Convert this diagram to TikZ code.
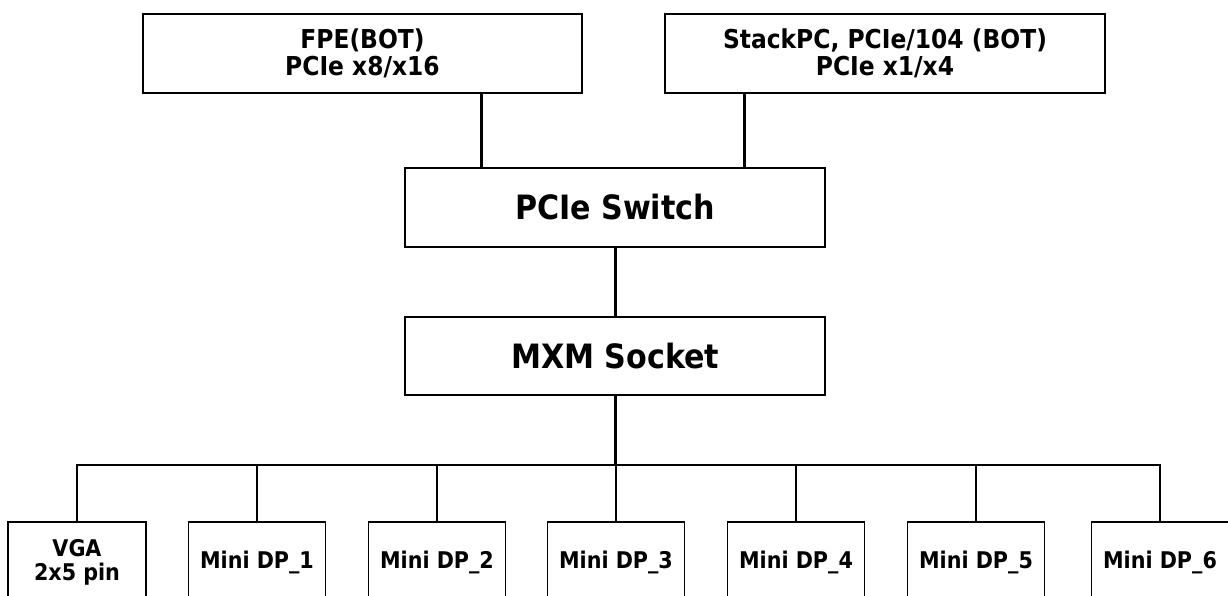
\documentclass[tikz,border=0pt]{standalone}
\usepackage{fontspec}
\setmainfont{DejaVu Sans Condensed}
\usepackage{tikz}
\usetikzlibrary{positioning}

\begin{document}
\begin{tikzpicture}[x=1pt, y=-1pt,
  blk/.style={draw, line width=1.5pt, inner sep=0pt, align=center, font=\bfseries},
  toplbl/.style={font=\fontsize{26}{27.5}\bfseries\selectfont},
  midlbl/.style={font=\fontsize{33.5}{36}\bfseries\selectfont},
  botlbl/.style={font=\fontsize{23}{24}\bfseries\selectfont},
  link/.style={line width=3pt},
  tap/.style={line width=2pt}]
\clip (0,0) rectangle (1228,595);
\fill[white] (0,0) rectangle (1228,595);

\node (fpe) [blk, toplbl, minimum width=439pt, minimum height=79pt] at (362.5,53.5) {FPE(BOT)\\PCIe x8/x16};
\node (stack) [blk, toplbl, minimum width=440pt, minimum height=79pt] at (885,53.5) {StackPC, PCIe/104 (BOT)\\PCIe x1/x4};
\node (sw) [blk, midlbl, minimum width=420pt, minimum height=79pt] at (615,207.5) {PCIe Switch};
\node (mxm) [blk, midlbl, minimum width=420pt, minimum height=78pt] at (615,356) {MXM Socket};

% output connectors along the bottom
\node (vga) [blk, botlbl, minimum width=138pt, minimum height=80pt] at (77,562) {VGA\\2x5 pin};
\foreach \n/\xc in {1/257,2/437,3/616,4/796,5/976,6/1160}
  \node (dp\n) [blk, botlbl, minimum width=137pt, minimum height=80pt] at (\xc,562) {Mini DP\_\n};

\coordinate (bus) at (615,465);

\draw[link] ([xshift=-134pt]sw.north) -- ([xshift=-134pt]sw.north |- fpe.south);
\draw[link] ([xshift=129pt]sw.north) -- ([xshift=129pt]sw.north |- stack.south);
\draw[link] (sw) -- (mxm);
\draw[link] (mxm.south) -- (bus);

\draw[tap] (vga.north) |- (dp6.north |- bus) -- (dp6.north);
\foreach \n in {1,...,5}
  \draw[tap] (dp\n.north) -- (dp\n.north |- bus);
\end{tikzpicture}
\end{document}
